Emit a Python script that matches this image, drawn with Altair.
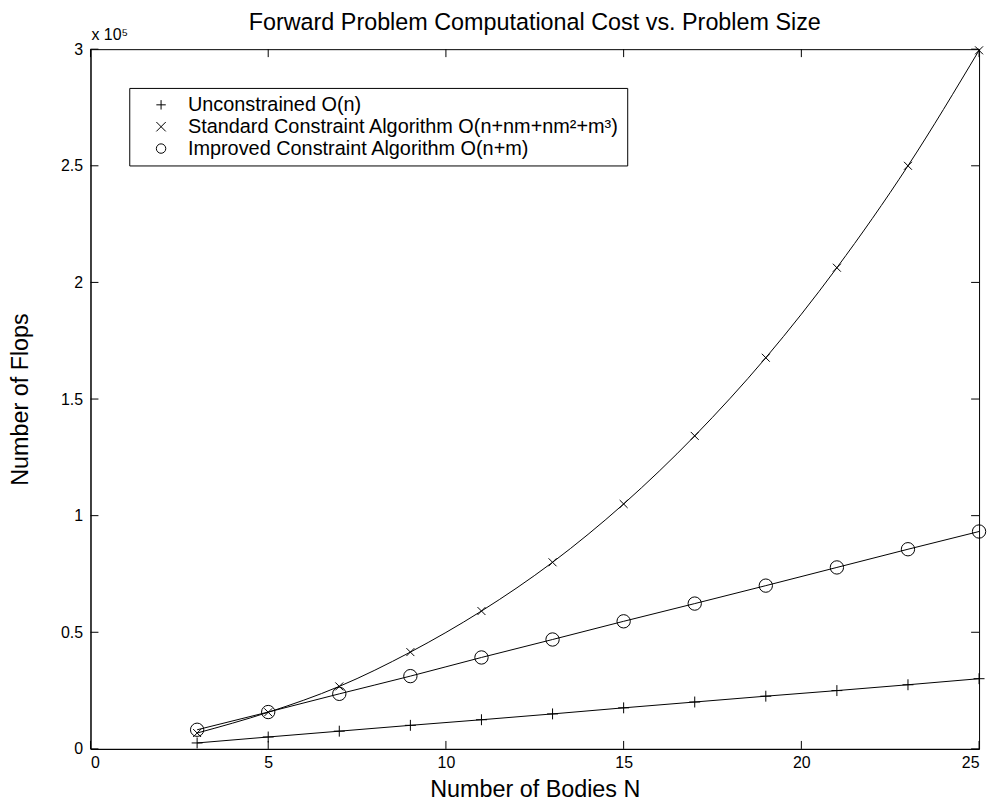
import altair as alt
import pandas as pd

# ---- data ----
n_values = [3, 5, 7, 9, 11, 13, 15, 17, 19, 21, 23, 25]
unconstrained = [2550, 5100, 7600, 10100, 12500, 15000, 17600, 20100, 22600, 25000, 27500, 30100]
standard = [6800, 15700, 26800, 41500, 59100, 80000, 105000, 134200, 167700, 206300, 250000, 299500]
improved = [8200, 15800, 23600, 31200, 39200, 46900, 54700, 62300, 70000, 77800, 85600, 93200]
series_names = [
    "Unconstrained O(n)",
    "Standard Constraint Algorithm O(n+nm+nm\u00b2+m\u00b3)",
    "Improved Constraint Algorithm O(n+m)",
]
x_ticks = [0, 5, 10, 15, 20, 25]
y_ticks = [0, 50000, 100000, 150000, 200000, 250000, 300000]
title_text = "Forward Problem Computational Cost vs. Problem Size"
exponent_text = "x 10\u2075"

rows = []
for name, vals in zip(series_names, [unconstrained, standard, improved]):
    for n, v in zip(n_values, vals):
        rows.append({"series": name, "n": n, "flops": v})
df = pd.DataFrame(rows)

W, H = 894, 704
FONT = "Liberation Sans"

plus_path = "M-1,0L1,0M0,-1L0,1"
x_path = "M-1,-1L1,1M-1,1L1,-1"
marker_sizes = [121, 64, 180]

xscale = alt.Scale(domain=[0, 25], nice=False)
yscale = alt.Scale(domain=[0, 300000], nice=False)
shape_scale = alt.Scale(domain=series_names, range=[plus_path, x_path, "circle"])
legend = alt.Legend(title=None, orient="none", legendX=39, legendY=39,
                    strokeColor="black", fillColor="white",
                    padding=7, symbolOffset=15, labelOffset=17,
                    labelFont=FONT, labelFontSize=20, labelColor="black",
                    symbolSize=90, symbolStrokeColor="black",
                    symbolStrokeWidth=1, symbolFillColor="transparent",
                    rowPadding=2, labelLimit=700)

base = alt.Chart(df)

lines = base.mark_line(color="black", strokeWidth=1, interpolate="monotone").encode(
    x=alt.X("n:Q", scale=xscale,
            axis=alt.Axis(values=x_ticks, title="Number of Bodies N", tickSize=0,
                          labelPadding=6, titlePadding=7, grid=False)),
    y=alt.Y("flops:Q", scale=yscale,
            axis=alt.Axis(values=y_ticks, title="Number of Flops", tickSize=0,
                          labelPadding=8, titlePadding=28, grid=False,
                          labelExpr="datum.value == 0 ? '0' : '' + (datum.value / 100000)")),
    detail="series:N",
)

point_layers = []
for name, sz in zip(series_names, marker_sizes):
    point_layers.append(
        base.transform_filter(alt.datum.series == name)
        .mark_point(filled=False, color="black", strokeWidth=1, opacity=1, size=sz)
        .encode(
            x=alt.X("n:Q", scale=xscale),
            y=alt.Y("flops:Q", scale=yscale),
            shape=alt.Shape("series:N", scale=shape_scale, sort=series_names, legend=legend),
        )
    )

tick_x = pd.DataFrame({"t": x_ticks})
tick_y = pd.DataFrame({"t": y_ticks})
TL = 8
bottom_ticks = alt.Chart(tick_x).mark_rule(color="black", strokeWidth=1).encode(
    x=alt.X("t:Q", scale=xscale), y=alt.value(H), y2=alt.value(H - TL))
top_ticks = alt.Chart(tick_x).mark_rule(color="black", strokeWidth=1).encode(
    x=alt.X("t:Q", scale=xscale), y=alt.value(0), y2=alt.value(TL))
left_ticks = alt.Chart(tick_y).mark_rule(color="black", strokeWidth=1).encode(
    y=alt.Y("t:Q", scale=yscale), x=alt.value(0), x2=alt.value(TL))
right_ticks = alt.Chart(tick_y).mark_rule(color="black", strokeWidth=1).encode(
    y=alt.Y("t:Q", scale=yscale), x=alt.value(W - TL), x2=alt.value(W))

exp_label = alt.Chart(pd.DataFrame({"txt": [exponent_text]})).mark_text(
    align="left", baseline="alphabetic", font=FONT, fontSize=16, color="black"
).encode(text="txt:N", x=alt.value(1), y=alt.value(-9))

title_mark = alt.Chart(pd.DataFrame({"txt": [title_text]})).mark_text(
    align="center", baseline="alphabetic", font=FONT, fontSize=23.5, color="black"
).encode(text="txt:N", x=alt.value(W / 2), y=alt.value(-19))

chart = alt.layer(
    bottom_ticks, top_ticks, left_ticks, right_ticks, lines, *point_layers,
    exp_label, title_mark
).properties(
    width=W, height=H,
    autosize=alt.AutoSizeParams(type="none"),
    padding={"left": 83, "top": 39, "right": 10, "bottom": 50},
    background="white",
).configure_view(
    stroke="black", strokeWidth=1
).configure_axis(
    domainColor="black", domainWidth=1, labelFont=FONT, labelFontSize=16,
    labelColor="black", titleFont=FONT, titleFontSize=23.5, titleFontWeight="normal",
    titleColor="black"
)

chart.save("out.html", embed_options={"renderer": "svg", "actions": False})
